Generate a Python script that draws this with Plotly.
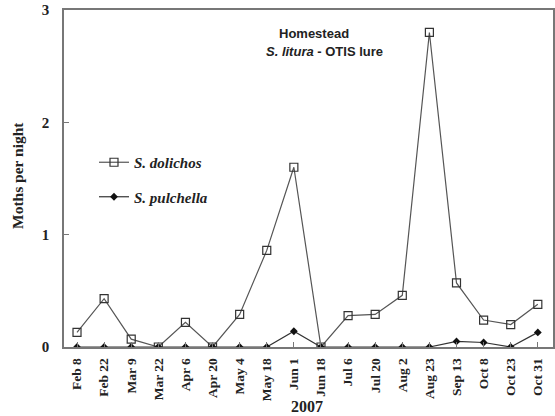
import plotly.graph_objects as go

dates = ["Feb 8", "Feb 22", "Mar 9", "Mar 22", "Apr 6", "Apr 20", "May 4", "May 18",
         "Jun 1", "Jun 18", "Jul 6", "Jul 20", "Aug 2", "Aug 23", "Sep 13", "Oct 8",
         "Oct 23", "Oct 31"]
dolichos = [0.13, 0.43, 0.07, 0.0, 0.22, 0.0, 0.29, 0.86, 1.60, 0.0, 0.28, 0.29,
            0.46, 2.80, 0.57, 0.24, 0.20, 0.38]
pulchella = [0.0, 0.0, 0.0, 0.0, 0.0, 0.0, 0.0, 0.0, 0.14, 0.0, 0.0, 0.0,
             0.0, 0.0, 0.05, 0.04, 0.0, 0.13]
y_ticks = [0, 1, 2, 3]

W, H = 555, 416
L, T = 64, 10
R = W - 553
B = H - 347
pw = W - L - R
ph = H - T - B

def px(x):
    return (x - L) / pw

def py(y):
    return 1 - (y - T) / ph

xi = list(range(len(dates)))

fig = go.Figure()
fig.add_trace(go.Scatter(
    x=xi, y=dolichos, mode="lines+markers", name="<b><i>S. dolichos</i></b>",
    legendgroup="dol",
    line=dict(color="#555555", width=1.2),
    marker=dict(symbol="square-open", size=8, color="#333333", line=dict(width=1.2)),
))
fig.add_trace(go.Scatter(
    x=xi, y=pulchella, mode="lines+markers", name="<b><i>S. pulchella</i></b>",
    legendgroup="pul",
    line=dict(color="#333333", width=1.2),
    marker=dict(symbol="diamond", size=6, color="#111111"),
))

fig.update_layout(
    width=W, height=H,
    margin=dict(l=L, r=R, t=T, b=B),
    paper_bgcolor="white", plot_bgcolor="white",
    showlegend=True,
    legend=dict(x=px(94), y=py(146), xanchor="left", yanchor="top",
                bgcolor="rgba(0,0,0,0)",
                font=dict(family="Liberation Serif", size=15, color="#222222"),
                tracegroupgap=12, itemwidth=30),
    xaxis=dict(
        range=[-0.48, 17.56], automargin=False,
        tickmode="array", tickvals=xi, ticktext=["<b>%s</b>" % d for d in dates],
        tickangle=-90,
        tickfont=dict(family="Liberation Serif", size=13.5, color="#222222"),
        ticks="inside", ticklen=5, tickcolor="#777777",
        ticklabelstandoff=4,
        showline=True, linecolor="#777777", linewidth=1.5, mirror=True,
        showgrid=False, zeroline=False,
    ),
    yaxis=dict(
        range=[0, 3], automargin=False,
        tickmode="array", tickvals=y_ticks, ticktext=["<b>%d</b>" % v for v in y_ticks],
        tickfont=dict(family="Liberation Serif", size=15, color="#222222"),
        ticks="inside", ticklen=5, tickcolor="#777777",
        ticklabelstandoff=10,
        showline=True, linecolor="#777777", linewidth=1.5, mirror=True,
        showgrid=False, zeroline=False,
    ),
)

fig.add_annotation(x=px(17), y=py(176), xref="paper", yref="paper",
                   text="<b>Moths per night</b>", showarrow=False, textangle=-90,
                   xanchor="center", yanchor="middle",
                   font=dict(family="Liberation Serif", size=15.5, color="#222222"))
fig.add_annotation(x=px(307), y=py(406), xref="paper", yref="paper",
                   text="<b>2007</b>", showarrow=False, xanchor="center", yanchor="middle",
                   font=dict(family="Liberation Serif", size=16, color="#222222"))
fig.add_annotation(x=px(314), y=py(33), xref="paper", yref="paper",
                   text="<b>Homestead</b>", showarrow=False, xanchor="center", yanchor="middle",
                   font=dict(family="Liberation Sans", size=13, color="#222222"))
fig.add_annotation(x=px(324), y=py(52), xref="paper", yref="paper",
                   text="<b><i>S. litura</i> - OTIS lure</b>", showarrow=False, xanchor="center",
                   yanchor="middle",
                   font=dict(family="Liberation Sans", size=13, color="#222222"))

fig.write_html("out.html", config={"displayModeBar": False},
               post_script="document.body.style.margin='0';")
